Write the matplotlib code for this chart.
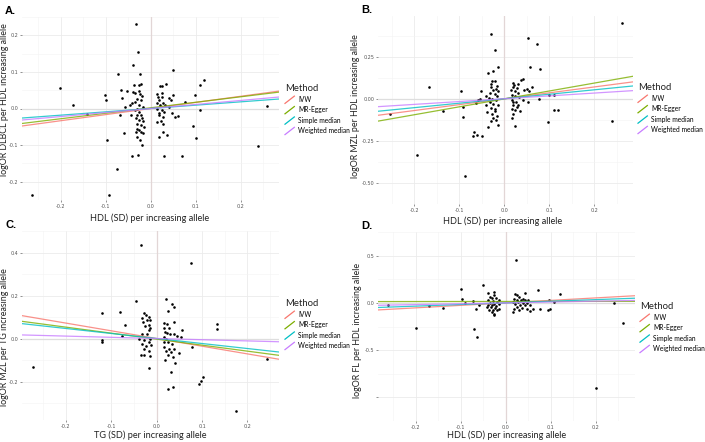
import matplotlib
matplotlib.use("Agg")
import matplotlib.pyplot as plt
from matplotlib.lines import Line2D
from matplotlib.legend_handler import HandlerBase

# ---- data ----
a_x = [-0.263, -0.201, -0.172, -0.141, -0.101, -0.099, -0.098, -0.092, -0.076, -0.072, -0.068, -0.065,
       -0.064, -0.059, -0.058, -0.053, -0.046, -0.043, -0.041, -0.041, -0.040, -0.040, -0.037, -0.036,
       -0.034, -0.033, -0.033, -0.033, -0.031, -0.031, -0.031, -0.030, -0.030, -0.030, -0.029, -0.029,
       -0.027, -0.025, -0.025, -0.025, -0.024, -0.024, -0.022, -0.022, -0.021, -0.021, -0.021, -0.020,
       -0.019, -0.018, -0.018, -0.018, -0.016, -0.027, -0.019, -0.023, -0.035, -0.026,
       0.013, 0.015, 0.015, 0.015, 0.016, 0.018, 0.019, 0.019, 0.019, 0.021, 0.021, 0.022, 0.024,
       0.025, 0.025, 0.025, 0.027, 0.028, 0.028, 0.028, 0.030, 0.030, 0.032, 0.034, 0.037, 0.041,
       0.041, 0.046, 0.047, 0.049, 0.050, 0.054, 0.060, 0.070, 0.077, 0.093, 0.098, 0.100, 0.109,
       0.110, 0.119, 0.239, 0.259]
a_y = [-0.236, 0.057, 0.009, -0.016, 0.038, 0.023, -0.085, -0.235, -0.164, 0.095, -0.018, 0.050,
       0.030, -0.068, 0.004, 0.047, 0.009, -0.018, 0.014, -0.129, 0.120, 0.045, 0.065, -0.005,
       0.043, 0.230, -0.027, -0.064, 0.000, -0.018, -0.055, 0.027, -0.041, -0.077, 0.155, -0.128,
       -0.009, 0.064, 0.009, -0.032, 0.093, 0.039, 0.066, -0.045, 0.022, -0.018, -0.064, -0.100,
       0.033, 0.005, -0.035, -0.068, -0.050, 0.048, -0.025, -0.085, 0.018, -0.058,
       0.016, 0.039, 0.000, -0.038, 0.032, -0.011, 0.023, -0.018, -0.077, 0.061, 0.009, -0.035, 0.061,
       0.043, 0.032, -0.005, -0.041, 0.016, -0.023, -0.064, -0.009, -0.130, 0.009, 0.067, -0.073, 0.029,
       0.005, 0.023, -0.012, 0.036, 0.105, -0.022, -0.021, -0.129, 0.018, -0.047, 0.036, -0.080, 0.064,
       -0.003, 0.077, -0.103, 0.006]

b_x = [-0.254, -0.195, -0.167, -0.136, -0.097, -0.093, -0.093, -0.087, -0.070, -0.067, -0.063, -0.061,
       -0.058, -0.054, -0.053, -0.050, -0.041, -0.040, -0.039, -0.037, -0.037, -0.033, -0.033, -0.031,
       -0.030, -0.030, -0.030, -0.028, -0.027, -0.027, -0.025, -0.025, -0.025, -0.025, -0.022, -0.022,
       -0.022, -0.020, -0.019, -0.018, -0.017, -0.017, -0.017, -0.015, -0.014, -0.014, -0.014,
       -0.031, -0.021, -0.035, -0.019,
       0.015, 0.016, 0.017, 0.017, 0.017, 0.019, 0.019, 0.019, 0.020, 0.023, 0.024, 0.024, 0.024,
       0.026, 0.027, 0.030, 0.030, 0.030, 0.033, 0.035, 0.036, 0.041, 0.041, 0.044, 0.050, 0.052,
       0.053, 0.054, 0.056, 0.061, 0.072, 0.077, 0.080, 0.096, 0.100, 0.110, 0.110, 0.120, 0.240,
       0.261, 0.022, 0.028, 0.020]
b_y = [-0.089, -0.337, 0.067, -0.071, 0.048, -0.048, -0.106, -0.461, -0.222, -0.199, -0.027, -0.213,
       -0.009, 0.000, 0.044, -0.222, -0.039, 0.018, -0.080, 0.154, -0.170, 0.032, -0.021, -0.053,
       0.387, 0.071, -0.133, 0.103, -0.004, -0.089, 0.163, 0.053, -0.032, -0.115, 0.289, 0.027,
       -0.062, 0.103, -0.128, -0.009, 0.074, 0.014, -0.103, 0.190, 0.044, -0.035, -0.154,
       0.090, -0.075, 0.005, 0.060,
       0.050, -0.062, 0.021, -0.009, -0.115, 0.071, -0.035, -0.089, 0.092, 0.043, 0.014, -0.067, -0.163,
       -0.018, 0.062, 0.089, 0.032, -0.035, 0.009, -0.074, 0.110, 0.119, -0.009, 0.053, 0.057, 0.358,
       -0.021, 0.044, 0.191, 0.067, 0.324, 0.000, 0.174, -0.138, 0.021, 0.021, -0.067, -0.067, -0.133,
       0.449, 0.080, -0.050, -0.020]

c_x = [-0.273, -0.120, -0.120, -0.120, -0.080, -0.071, -0.077, -0.046, -0.038, -0.035, -0.035, -0.033,
       -0.033, -0.032, -0.031, -0.029, -0.029, -0.029, -0.027, -0.026, -0.024, -0.023, -0.022, -0.022,
       -0.018, -0.018, -0.018, -0.018, -0.016, -0.016, -0.015, -0.015, -0.015, -0.015, -0.013,
       0.016, 0.016, 0.016, 0.016, 0.017, 0.018, 0.019, 0.020, 0.021, 0.021, 0.022, 0.023, 0.024,
       0.024, 0.025, 0.025, 0.026, 0.028, 0.029, 0.031, 0.031, 0.033, 0.033, 0.035, 0.035, 0.037,
       0.038, 0.038, 0.039, 0.040, 0.044, 0.049, 0.053, 0.055, 0.075, 0.077, 0.094, 0.097, 0.101,
       0.133, 0.133, 0.174, 0.244]
c_y = [-0.134, 0.117, -0.009, -0.015, 0.122, 0.065, 0.012, 0.174, 0.000, 0.436, -0.078, 0.095,
       0.020, -0.026, 0.075, 0.117, -0.006, -0.048, -0.075, 0.057, 0.110, -0.033, 0.087, 0.020,
       0.102, 0.065, 0.039, -0.018, -0.056, -0.138, 0.084, 0.050, 0.000, -0.081, -0.030,
       0.072, 0.050, -0.015, -0.041, 0.009, -0.101, 0.030, 0.185, 0.000, -0.060, 0.069, 0.024, 0.129,
       -0.075, -0.018, -0.236, 0.050, -0.048, 0.020, -0.063, -0.156, 0.162, -0.026, -0.086, -0.226, -0.048,
       0.075, 0.020, 0.147, -0.116, 0.012, -0.068, 0.009, 0.039, 0.353, -0.041, -0.213, -0.198, -0.179,
       0.069, 0.042, -0.338, -0.093]

d_x = [-0.261, -0.200, -0.170, -0.140, -0.100, -0.098, -0.090, -0.073, -0.070, -0.067, -0.064, -0.059,
       -0.051, -0.042, -0.039, -0.039, -0.039, -0.038, -0.036, -0.035, -0.033, -0.031, -0.031, -0.030,
       -0.029, -0.029, -0.027, -0.027, -0.026, -0.026, -0.026, -0.024, -0.021, -0.021, -0.020, -0.020,
       -0.016, -0.016, -0.016,
       0.016, 0.017, 0.019, 0.019, 0.021, 0.021, 0.023, 0.024, 0.024, 0.026, 0.028, 0.030, 0.030,
       0.032, 0.033, 0.036, 0.038, 0.038, 0.043, 0.043, 0.043, 0.047, 0.047, 0.050, 0.053, 0.054,
       0.061, 0.071, 0.076, 0.093, 0.097, 0.099, 0.108, 0.121, 0.201, 0.241, 0.261]
d_y = [-0.021, -0.268, -0.032, -0.058, 0.145, 0.045, 0.000, 0.021, -0.276, -0.061, -0.360, -0.026,
       0.192, -0.045, 0.105, 0.026, -0.018, -0.079, 0.066, 0.000, -0.045, 0.053, -0.092, -0.026,
       0.018, -0.071, 0.113, -0.124, 0.087, -0.008, -0.113, -0.053, 0.053, -0.034, 0.013, -0.079,
       0.034, -0.013, -0.061,
       -0.097, 0.013, 0.045, -0.066, 0.092, -0.013, 0.453, 0.034, -0.039, 0.079, 0.008, 0.061, -0.071,
       -0.018, 0.026, -0.053, 0.045, 0.000, 0.105, 0.026, -0.018, 0.000, -0.066, 0.034, -0.026, -0.087,
       -0.061, 0.132, -0.061, -0.071, 0.034, -0.061, 0.008, 0.097, -0.903, -0.005, -0.210]

methods = ["IVW", "MR-Egger", "Simple median", "Weighted median"]
method_colors = ["#F8766D", "#7CAE00", "#00BFC4", "#C77CFF"]
# (intercept, slope) of each method, per panel
a_fits = [(0.0, 0.167), (0.002, 0.150), (0.0, 0.091), (0.0, 0.110)]
b_fits = [(0.0, 0.350), (-0.001, 0.470), (0.0, 0.265), (0.0, 0.168)]
c_fits = [(0.0, -0.358), (-0.003, -0.279), (0.0, -0.233), (0.0, -0.056)]
d_fits = [(0.0, 0.263), (0.015, 0.004), (0.0, 0.172), (0.0, 0.091)]

W, H = 705, 442
fig = plt.figure(figsize=(W / 100, H / 100), dpi=100)
LAB = "Lato"


class DiagHandler(HandlerBase):
    def create_artists(self, legend, orig, xd, yd, width, height, fontsize, trans):
        ln = Line2D([-xd, -xd + width], [-yd, -yd + height],
                    color=orig.get_color(), lw=orig.get_linewidth())
        ln.set_transform(trans)
        return [ln]


def panel(box, x, y, fits, xlim, ylim, yticks, ylabels, letter, xlab, ylab, xlab_xy, ylab_xy, leg_xy):
    left, top, right, bottom = box
    ax = fig.add_axes([left / W, 1 - bottom / H, (right - left) / W, (bottom - top) / H])
    for s in ax.spines.values():
        s.set_visible(False)
    ax.set_xlim(*xlim)
    ax.set_ylim(*ylim)
    ax.set_xticks([-0.2, -0.1, 0.0, 0.1, 0.2])
    ax.set_xticklabels(["-0.2", "-0.1", "0.0", "0.1", "0.2"])
    ax.set_xticks([-0.25, -0.15, -0.05, 0.05, 0.15, 0.25], minor=True)
    ax.set_yticks(yticks)
    ax.set_yticklabels(ylabels)
    ymin = [(yticks[i] + yticks[i + 1]) / 2 for i in range(len(yticks) - 1)]
    step = yticks[1] - yticks[0]
    ymin += [yticks[0] - step / 2, yticks[-1] + step / 2]
    ax.set_yticks(ymin, minor=True)
    ax.grid(True, which="major", color="#ebebeb", lw=0.6)
    ax.grid(True, which="minor", color="#f3f3f3", lw=0.4)
    ax.tick_params(which="major", length=1.6, width=0.5, color="#666666",
                   labelsize=3.5, labelcolor="#555555", pad=1.0)
    ax.tick_params(axis="x", pad=1.6)
    ax.tick_params(which="minor", length=0)
    ax.set_axisbelow(True)
    ax.axhline(0, color="#dedede", lw=0.9, zorder=1)
    ax.axvline(0, color="#e2d6d6", lw=0.9, zorder=1)
    ax.scatter(x, y, s=3.5, color="black", zorder=3, linewidths=0)
    for (b, m), name, col in zip(fits, methods, method_colors):
        ax.axline((0, b), slope=m, color=col, lw=0.9, alpha=0.8, label=name, zorder=4)
    fig.text(xlab_xy[0] / W, 1 - xlab_xy[1] / H, xlab, fontsize=6.6, family=LAB,
             color="#222222", ha="center", va="center")
    fig.text(ylab_xy[0] / W, 1 - ylab_xy[1] / H, ylab, fontsize=6.4, family=LAB,
             color="#222222", ha="center", va="center", rotation=90)
    fig.text((left - 17) / W, 1 - (top - 6) / H, letter, fontsize=8, weight="bold",
             family="Liberation Sans", va="center", ha="left")
    lg = ax.legend(loc="upper left", bbox_to_anchor=(leg_xy[0] / W, 1 - leg_xy[1] / H),
                   bbox_transform=fig.transFigure, frameon=False, title="Method",
                   handler_map={Line2D: DiagHandler()}, prop={"family": LAB, "size": 4.8},
                   handlelength=1.4, handleheight=1.3, handletextpad=0.55, labelspacing=0.45,
                   borderpad=0, borderaxespad=0)
    lg.get_title().set_fontsize(6.8)
    lg.get_title().set_family(LAB)
    lg.get_title().set_color("#222222")
    lg._legend_box.align = "left"
    return ax


panel((22, 17, 279, 200), a_x, a_y, a_fits, (-0.286, 0.285), (-0.25, 0.249),
      [-0.2, -0.1, 0.0, 0.1, 0.2], ["-0.2", "-0.1", "0.0", "0.1", "0.2"], "A.",
      "HDL (SD) per increasing allele", "logOR DLBCL per HDL increasing allele",
      (150, 218), (5, 100), (285, 84))
panel((378, 16, 633, 204), b_x, b_y, b_fits, (-0.281, 0.2856), (-0.509, 0.491),
      [-0.5, -0.25, 0.0, 0.25], ["-0.50", "-0.25", "0.00", "0.25"], "B.",
      "HDL (SD) per increasing allele", "logOR MZL per HDL increasing allele",
      (503, 221), (356, 106), (638, 83))
panel((22, 231, 279, 420), c_x, c_y, c_fits, (-0.297, 0.2695), (-0.379, 0.474),
      [-0.2, 0.0, 0.2, 0.4], ["-0.2", "0.0", "0.2", "0.4"], "C.",
      "TG (SD) per increasing allele", "logOR MZL per TG increasing allele",
      (150, 435), (5, 337), (285, 299))
panel((378, 232, 635, 421), d_x, d_y, d_fits, (-0.284, 0.2873), (-0.968, 0.523),
      [-1.0, -0.5, 0.0, 0.5], ["", "-0.5", "0.0", "0.5"], "D.",
      "HDL (SD) per increasing allele", "logOR FL per HDL increasing allele",
      (507, 435), (358, 330), (640, 302))

fig.savefig("out.png", dpi=100)
